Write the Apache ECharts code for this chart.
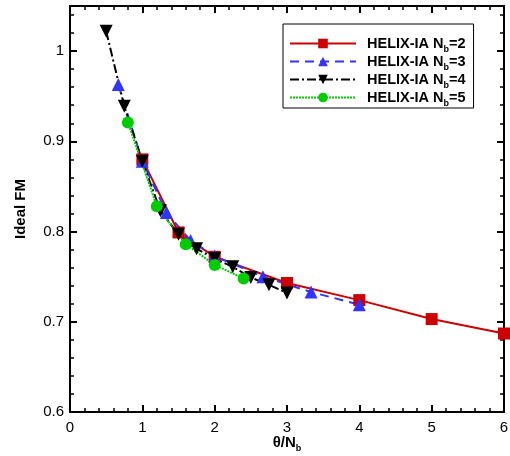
<!DOCTYPE html>
<html><head><meta charset="utf-8">
<script src="https://cdn.jsdelivr.net/npm/echarts@6/dist/echarts.min.js"></script>
<style>html,body{margin:0;padding:0;background:#fff}#c{width:510px;height:456px}</style>
</head><body><div id="c"></div>
<script>
const nb2X = [1.0, 1.5, 2.0, 3.0, 4.0, 5.0, 6.0];
const nb2Y = [0.880, 0.799, 0.772, 0.743, 0.724, 0.703, 0.687];
const nb3X = [0.667, 1.0, 1.333, 1.667, 2.0, 2.667, 3.333, 4.0];
const nb3Y = [0.963, 0.878, 0.821, 0.790, 0.773, 0.750, 0.733, 0.719];
const nb4X = [0.5, 0.75, 1.0, 1.25, 1.5, 1.75, 2.0, 2.25, 2.5, 2.75, 3.0];
const nb4Y = [1.022, 0.939, 0.878, 0.823, 0.797, 0.781, 0.770, 0.761, 0.749, 0.741, 0.732];
const nb5X = [0.8, 1.2, 1.6, 2.0, 2.4];
const nb5Y = [0.921, 0.828, 0.786, 0.763, 0.748];
const xTicks = [0, 1, 2, 3, 4, 5, 6];
const yTicks = [0.6, 0.7, 0.8, 0.9, 1.0];

const zip = (xs, ys) => xs.map((x, i) => [x, ys[i]]);
const font = 'Liberation Sans, Arial, sans-serif';
const tickCommon = {inside: true, length: 7, lineStyle: {color: '#000', width: 2}};
const minorCommon = {show: true, splitNumber: 5, length: 4, lineStyle: {color: '#000', width: 1.5}};

const chart = echarts.init(document.getElementById('c'));
const mk = (name, data, color, symbol, rotate, type, size) => ({
  name, type: 'line', data, symbol, symbolSize: size, symbolRotate: rotate,
  itemStyle: {color}, lineStyle: {color, width: 2, type}, z: 3
});
chart.setOption({
  animation: false,
  grid: {left: 70, right: 6, top: 6, bottom: 44, outerBoundsMode: 'none', containLabel: false},
  xAxis: [{
    type: 'value', min: 0, max: 6, interval: 1,
    axisLine: {onZero: false, lineStyle: {color: '#000', width: 2}},
    axisTick: tickCommon, minorTick: minorCommon, splitLine: {show: false},
    axisLabel: {color: '#000', fontFamily: font, fontSize: 15, margin: 8,
      formatter: v => (xTicks.includes(v) ? String(v) : '')},
    name: '{t|θ/N}{s|b}', nameLocation: 'middle', nameGap: 23, nameMoveOverlap: false,
    nameTextStyle: {rich: {
      t: {fontFamily: font, fontSize: 15, fontWeight: 'bold', color: '#000', verticalAlign: 'bottom'},
      s: {fontFamily: font, fontSize: 9, fontWeight: 'bold', color: '#000', verticalAlign: 'bottom', padding: [0,0,-3,0]}
    }}
  }, {
    type: 'value', position: 'top', min: 0, max: 6, interval: 1,
    axisLine: {onZero: false, lineStyle: {color: '#000', width: 2}},
    axisTick: tickCommon, minorTick: minorCommon, splitLine: {show: false},
    axisLabel: {show: false}
  }],
  yAxis: [{
    type: 'value', min: 0.6, max: 1.05, interval: 0.1,
    axisLine: {onZero: false, lineStyle: {color: '#000', width: 2}},
    axisTick: tickCommon, minorTick: minorCommon, splitLine: {show: false},
    axisLabel: {color: '#000', fontFamily: font, fontSize: 15, margin: 6,
      formatter: v => (yTicks.some(t => Math.abs(t - v) < 1e-6) ? String(+v.toFixed(1)) : '')},
    name: 'Ideal FM', nameLocation: 'middle', nameGap: 42, nameRotate: 90, nameMoveOverlap: false,
    nameTextStyle: {fontFamily: font, fontSize: 15, fontWeight: 'bold', color: '#000'}
  }, {
    type: 'value', position: 'right', min: 0.6, max: 1.05, interval: 0.1,
    axisLine: {onZero: false, lineStyle: {color: '#000', width: 2}},
    axisTick: tickCommon, minorTick: minorCommon, splitLine: {show: false},
    axisLabel: {show: false}
  }],
  legend: {
    left: 283, top: 24, orient: 'vertical', itemGap: 0,
    itemWidth: 66, itemHeight: 12,
    borderColor: '#000', borderWidth: 1, borderRadius: 0,
    padding: [12, 8, 0, 6],
    data: ['n2', 'n3', 'n4', 'n5'],
    formatter: n => '{p|}{a|HELIX-IA N}{s|b}{a|=' + n.slice(1) + '}',
    textStyle: {rich: {
      p: {width: 6},
      a: {fontFamily: font, fontSize: 14.5, fontWeight: 'bold', color: '#000', verticalAlign: 'bottom'},
      s: {fontFamily: font, fontSize: 9, fontWeight: 'bold', color: '#000', verticalAlign: 'bottom', padding: [0,0,-3,0]}
    }}
  },
  series: [
    mk('n2', zip(nb2X, nb2Y), '#cc0000', 'rect', 0, 'solid', 12),
    mk('n3', zip(nb3X, nb3Y), '#3333ff', 'triangle', 0, [9, 6], 13),
    mk('n4', zip(nb4X, nb4Y), '#000000', 'triangle', 180, [9, 3, 2, 3], 13),
    mk('n5', zip(nb5X, nb5Y), '#00cc00', 'circle', 0, [2, 1], 12)
  ]
});
</script></body></html>
